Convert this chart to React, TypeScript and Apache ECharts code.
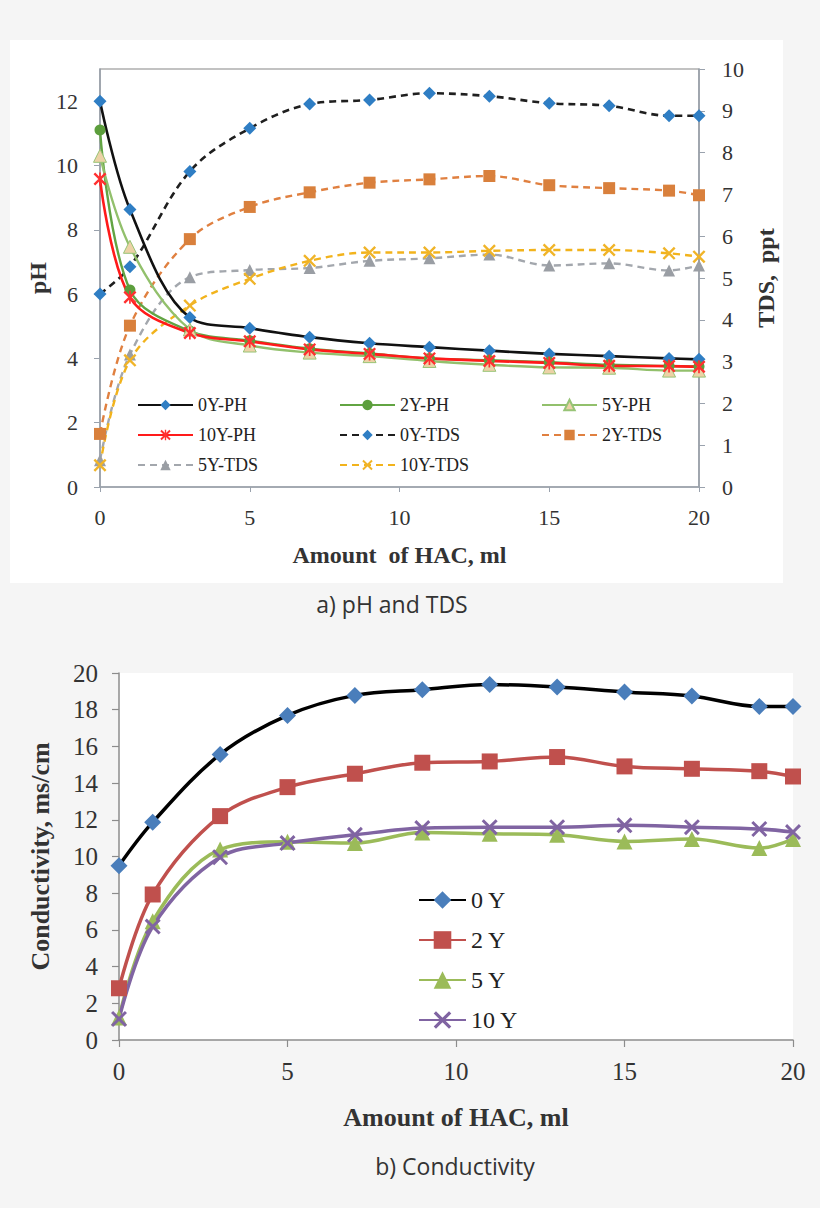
import React, { useEffect, useRef } from "react";
import * as echarts from "echarts";

// ---------- data ----------
const hacMl = [0, 1, 3, 5, 7, 9, 11, 13, 15, 17, 19, 20];

const ph0Y = [12.0, 8.63, 5.27, 4.94, 4.66, 4.47, 4.35, 4.24, 4.14, 4.07, 4.0, 3.97];
const ph2Y = [11.1, 6.13, 4.85, 4.55, 4.3, 4.15, 4.0, 3.94, 3.88, 3.8, 3.76, 3.75];
const ph5Y = [10.3, 7.47, 4.9, 4.4, 4.18, 4.07, 3.92, 3.8, 3.72, 3.71, 3.62, 3.62];
const ph10Y = [9.58, 5.9, 4.79, 4.53, 4.28, 4.14, 4.0, 3.92, 3.86, 3.77, 3.76, 3.74];

const tds0Y = [4.62, 5.27, 7.55, 8.58, 9.16, 9.26, 9.42, 9.35, 9.18, 9.12, 8.88, 8.88];
const tds2Y = [1.27, 3.86, 5.93, 6.7, 7.05, 7.28, 7.36, 7.44, 7.22, 7.15, 7.09, 6.98];
const tds5Y = [0.64, 3.17, 5.02, 5.19, 5.24, 5.41, 5.47, 5.56, 5.3, 5.35, 5.18, 5.3];
const tds10Y = [0.52, 3.03, 4.34, 4.98, 5.41, 5.61, 5.61, 5.65, 5.67, 5.67, 5.59, 5.51];

const cond0Y = [9.5, 11.87, 15.56, 17.69, 18.78, 19.09, 19.37, 19.24, 18.97, 18.75, 18.18, 18.18];
const cond2Y = [2.82, 7.93, 12.2, 13.78, 14.51, 15.11, 15.18, 15.42, 14.91, 14.78, 14.65, 14.36];
const cond5Y = [1.23, 6.47, 10.38, 10.8, 10.73, 11.31, 11.24, 11.18, 10.82, 10.95, 10.46, 10.95];
const cond10Y = [1.15, 6.18, 9.96, 10.73, 11.18, 11.55, 11.6, 11.6, 11.7, 11.6, 11.5, 11.33];

const phTicks = [0, 2, 4, 6, 8, 10, 12];

const topLegendRows = [
  ["0Y-PH", "2Y-PH", "5Y-PH"],
  ["10Y-PH", "0Y-TDS", "2Y-TDS"],
  ["5Y-TDS", "10Y-TDS"],
];
const bottomNames = ["0 Y", "2 Y", "5 Y", "10 Y"];

// ---------- helpers ----------
const pairs = (ys: number[]) => hacMl.map((x, i) => [x, ys[i]]);

const X_MARK =
  "path://M0,1.3 L1.3,0 L10,8.7 L8.7,10 Z M8.7,0 L10,1.3 L1.3,10 L0,8.7 Z";
const STAR_MARK =
  "path://M0,1.3 L1.3,0 L10,8.7 L8.7,10 Z M8.7,0 L10,1.3 L1.3,10 L0,8.7 Z M4.35,0 L5.65,0 L5.65,10 L4.35,10 Z";

const SERIF = "Liberation Serif";
const SANS = "Open Sans";

function lineSeries(
  name: string,
  ys: number[],
  xAxisIndex: number,
  yAxisIndex: number,
  lineColor: string,
  width: number,
  dashed: boolean,
  symbol: string,
  symbolSize: number,
  symbolColor: string,
  border?: string
) {
  return {
    type: "line",
    name,
    data: pairs(ys),
    xAxisIndex,
    yAxisIndex,
    smooth: 0.35,
    symbol,
    symbolSize,
    showSymbol: true,
    lineStyle: {
      color: lineColor,
      width,
      type: dashed ? [7, 5] : "solid",
    },
    itemStyle: {
      color: symbolColor,
      borderColor: border || symbolColor,
      borderWidth: border ? 1 : 0,
      opacity: 1,
    },
    emphasis: { disabled: true },
    z: dashed ? 2 : 3,
  };
}

export default function App() {
  const ref = useRef<HTMLDivElement>(null);

  useEffect(() => {
    if (!ref.current) return;
    const chart = echarts.init(ref.current, undefined, { renderer: "svg" });

    const topAxisColor = "#9aa2ad";
    const botAxisColor = "#8c8c8c";
    const labelColor = "#333333";

    const topLegends: any[] = [];
    const colLeft = [137, 339, 541];
    const rowCenter = [405, 435, 465];
    topLegendRows.forEach((row, r) =>
      row.forEach((nm, c) => {
        topLegends.push({
          data: [nm],
          left: colLeft[c],
          top: rowCenter[r] - 9,
          padding: 0,
          itemWidth: 55,
          itemHeight: 13,
          selectedMode: false,
          textStyle: {
            fontFamily: SERIF,
            fontSize: 18,
            lineHeight: 18,
            color: "#222",
          },
        });
      })
    );

    const axisLabelStyle = (size: number, margin: number) => ({
      fontFamily: SERIF,
      fontSize: size,
      color: labelColor,
      margin,
    });

    const option: any = {
      animation: false,
      backgroundColor: "#f5f5f5",
      textStyle: { fontFamily: SERIF },
      graphic: [
        {
          type: "rect",
          z: -1,
          shape: { x: 10, y: 40, width: 773, height: 543 },
          style: { fill: "#ffffff" },
        },
        {
          type: "text",
          x: 392,
          y: 604,
          style: {
            text: "a) pH and TDS",
            fontFamily: SANS,
            fontSize: 23,
            fill: "#333",
            textAlign: "center",
            textVerticalAlign: "middle",
          },
        },
        {
          type: "text",
          x: 455,
          y: 1166,
          style: {
            text: "b) Conductivity",
            fontFamily: SANS,
            fontSize: 23,
            fill: "#333",
            textAlign: "center",
            textVerticalAlign: "middle",
          },
        },
      ],
      grid: [
        {
          left: 100,
          top: 69,
          width: 599,
          height: 418,
          show: true,
          borderColor: "#858585",
          borderWidth: 1.2,
          backgroundColor: "transparent",
          outerBoundsMode: "none",
          containLabel: false,
        },
        {
          left: 119,
          top: 673,
          width: 674,
          height: 367,
          show: true,
          borderWidth: 0,
          backgroundColor: "#ffffff",
          outerBoundsMode: "none",
          containLabel: false,
        },
      ],
      legend: [
        ...topLegends,
        {
          data: bottomNames,
          orient: "vertical",
          left: 418,
          top: 888,
          padding: 0,
          itemWidth: 47,
          itemHeight: 22,
          itemGap: 16,
          selectedMode: false,
          textStyle: {
            fontFamily: SERIF,
            fontSize: 24,
            lineHeight: 24,
            color: "#222",
          },
        },
      ],
      xAxis: [
        {
          type: "value",
          gridIndex: 0,
          min: 0,
          max: 20,
          interval: 5,
          name: "Amount  of HAC, ml",
          nameLocation: "middle",
          nameGap: 56,
          nameMoveOverlap: false,
          nameTextStyle: {
            fontFamily: SERIF,
            fontSize: 24,
            fontWeight: "bold",
            color: "#333",
          },
          axisLine: { show: true, onZero: false, lineStyle: { color: topAxisColor, width: 1.5 } },
          axisTick: { show: true, length: 5, lineStyle: { color: topAxisColor } },
          axisLabel: axisLabelStyle(22, 19),
          splitLine: { show: false },
        },
        {
          type: "value",
          gridIndex: 1,
          min: 0,
          max: 20,
          interval: 5,
          name: "Amount of HAC, ml",
          nameLocation: "middle",
          nameGap: 64,
          nameMoveOverlap: false,
          nameTextStyle: {
            fontFamily: SERIF,
            fontSize: 26,
            fontWeight: "bold",
            color: "#333",
          },
          axisLine: { show: true, onZero: false, lineStyle: { color: botAxisColor, width: 1.5 } },
          axisTick: { show: true, length: 7, lineStyle: { color: botAxisColor, width: 1.2 } },
          axisLabel: axisLabelStyle(25, 19),
          splitLine: { show: false },
        },
      ],
      yAxis: [
        {
          type: "value",
          gridIndex: 0,
          min: 0,
          max: 13,
          interval: 2,
          name: "pH",
          nameLocation: "middle",
          nameRotate: 90,
          nameGap: 50,
          nameMoveOverlap: false,
          nameTextStyle: {
            fontFamily: SERIF,
            fontSize: 24,
            fontWeight: "bold",
            color: "#333",
          },
          axisLine: { show: true, onZero: false, lineStyle: { color: topAxisColor, width: 1.5 } },
          axisTick: { show: true, length: 6, customValues: phTicks, lineStyle: { color: topAxisColor } },
          axisLabel: { ...axisLabelStyle(22, 22), customValues: phTicks },
          splitLine: { show: false },
        },
        {
          type: "value",
          gridIndex: 0,
          position: "right",
          min: 0,
          max: 10,
          interval: 1,
          name: "TDS,  ppt",
          nameLocation: "middle",
          nameRotate: 90,
          nameGap: 55,
          nameMoveOverlap: false,
          nameTextStyle: {
            fontFamily: SERIF,
            fontSize: 24,
            fontWeight: "bold",
            color: "#333",
          },
          axisLine: { show: true, onZero: false, lineStyle: { color: topAxisColor, width: 1.5 } },
          axisTick: { show: true, length: 6, lineStyle: { color: topAxisColor } },
          axisLabel: axisLabelStyle(22, 23),
          splitLine: { show: false },
        },
        {
          type: "value",
          gridIndex: 1,
          min: 0,
          max: 20,
          interval: 2,
          name: "Conductivity, ms/cm",
          nameLocation: "middle",
          nameRotate: 90,
          nameGap: 66,
          nameMoveOverlap: false,
          nameTextStyle: {
            fontFamily: SERIF,
            fontSize: 26,
            fontWeight: "bold",
            color: "#333",
          },
          axisLine: { show: true, onZero: false, lineStyle: { color: botAxisColor, width: 1.5 } },
          axisTick: { show: true, length: 7, lineStyle: { color: botAxisColor, width: 1.2 } },
          axisLabel: axisLabelStyle(25, 21),
          splitLine: { show: false },
        },
      ],
      series: [
        // TDS (dashed, right axis)
        lineSeries("0Y-TDS", tds0Y, 0, 1, "#1f1f1f", 2.6, true, "diamond", 13, "#2f7ec4"),
        lineSeries("2Y-TDS", tds2Y, 0, 1, "#e08040", 2.4, true, "rect", 12, "#d9803c"),
        lineSeries("5Y-TDS", tds5Y, 0, 1, "#a3a7ad", 2.4, true, "triangle", 12, "#9a9ea4"),
        lineSeries("10Y-TDS", tds10Y, 0, 1, "#f2b31c", 2.4, true, X_MARK, 13, "#f0b428"),
        // pH (solid, left axis)
        lineSeries("0Y-PH", ph0Y, 0, 0, "#111111", 2.6, false, "diamond", 13, "#2f7ec4"),
        lineSeries("2Y-PH", ph2Y, 0, 0, "#62a443", 2.4, false, "circle", 11, "#5c9e3c"),
        lineSeries("5Y-PH", ph5Y, 0, 0, "#92c06c", 2.4, false, "triangle", 13, "#ecd2a6", "#98c477"),
        lineSeries("10Y-PH", ph10Y, 0, 0, "#ff1a1a", 2.6, false, STAR_MARK, 13, "#ff3030"),
        // Conductivity
        lineSeries("0 Y", cond0Y, 1, 2, "#000000", 3.5, false, "diamond", 17, "#4a7ebb"),
        lineSeries("2 Y", cond2Y, 1, 2, "#c0504d", 3.5, false, "rect", 16, "#c0504d"),
        lineSeries("5 Y", cond5Y, 1, 2, "#9bbb59", 3.5, false, "triangle", 16, "#9bbb59"),
        lineSeries("10 Y", cond10Y, 1, 2, "#8064a2", 3.5, false, X_MARK, 16, "#8064a2"),
      ],
    };

    chart.setOption(option);
    return () => chart.dispose();
  }, []);

  return (
    <div
      ref={ref}
      style={{
        position: "absolute",
        left: 0,
        top: 0,
        width: 820,
        height: 1208,
        background: "#f5f5f5",
      }}
    />
  );
}
